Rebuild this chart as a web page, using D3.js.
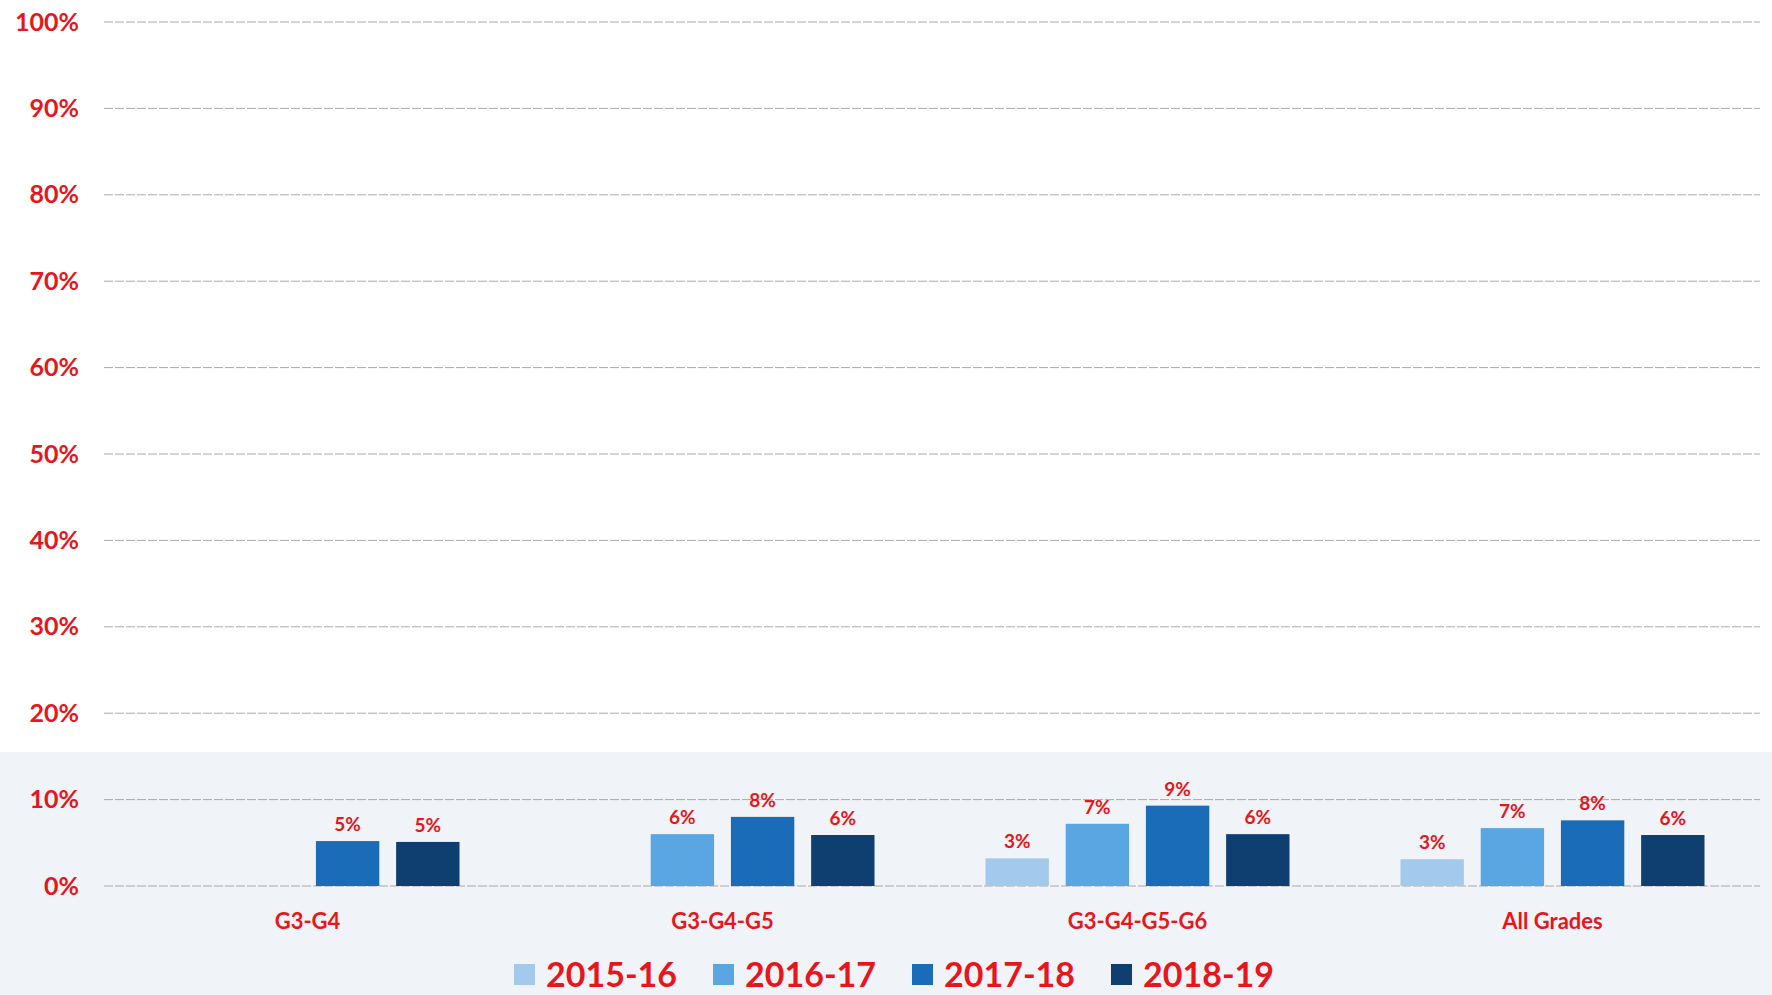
<!DOCTYPE html>
<html>
<head>
<meta charset="utf-8">
<title>Grades chart</title>
<script src="https://cdn.jsdelivr.net/npm/d3@7"></script>
<style>
  body { margin: 0; background: #fff; }
  text { font-family: Lato, "Open Sans", sans-serif; font-weight: bold; fill: #e8161c; }
</style>
</head>
<body>
<script>
// data
var groups = ['G3-G4', 'G3-G4-G5', 'G3-G4-G5-G6', 'All Grades'];
var years = ['2015-16', '2016-17', '2017-18', '2018-19'];
var v2015 = [null, null, 0.032, 0.031];
var v2016 = [null, 0.060, 0.072, 0.067];
var v2017 = [0.052, 0.080, 0.093, 0.076];
var v2018 = [0.051, 0.059, 0.060, 0.059];
var yTicks = [0, 0.1, 0.2, 0.3, 0.4, 0.5, 0.6, 0.7, 0.8, 0.9, 1];
var colors = ['#a3c9ec', '#5aa6e2', '#1a6cb9', '#0f3f70'];

var series = [v2015, v2016, v2017, v2018];
var width = 1772, height = 995;

var svg = d3.select('body').append('svg')
    .attr('width', width)
    .attr('height', height);

// pale band behind the bar area, like the scanned page
svg.append('rect')
    .attr('x', 0).attr('y', 752)
    .attr('width', width).attr('height', height - 752)
    .attr('fill', '#f0f3f7');

var x0 = d3.scaleBand().domain(groups).range([100, 1760]);
var x1 = d3.scaleBand().domain(years)
    .range([x0.bandwidth() / 2 - 152, x0.bandwidth() / 2 + 152])
    .paddingInner(0.21);
var y = d3.scaleLinear().domain([0, 1]).range([886, 22]);
var pct = d3.format('.0%');

// grid lines
svg.append('g')
  .selectAll('line')
  .data(yTicks)
  .enter().append('line')
    .attr('x1', 104).attr('x2', 1760)
    .attr('y1', function(d) { return y(d); })
    .attr('y2', function(d) { return y(d); })
    .attr('stroke', '#aaa')
    .attr('stroke-width', 1)
    .attr('stroke-dasharray', '9,2');

// y labels
var yAxis = d3.axisLeft(y).tickValues(yTicks).tickFormat(pct).tickSize(0).tickPadding(0);
var ga = svg.append('g').attr('transform', 'translate(79,0)').call(yAxis);
ga.select('.domain').remove();
ga.selectAll('text')
    .attr('font-size', 25)
    .attr('fill', '#e8161c')
    .style('font-family', 'Lato, sans-serif');

// bars
var rows = [];
groups.forEach(function(g, i) {
  years.forEach(function(yr, j) {
    if (series[j][i] != null) rows.push({g: g, yr: yr, j: j, v: series[j][i]});
  });
});

var bars = svg.append('g').selectAll('g')
    .data(rows)
    .enter().append('g')
    .attr('transform', function(d) { return 'translate(' + (x0(d.g) + x1(d.yr)) + ',0)'; });

bars.append('rect')
    .attr('y', function(d) { return y(d.v); })
    .attr('width', x1.bandwidth())
    .attr('height', function(d) { return y(0) - y(d.v); })
    .attr('fill', function(d) { return colors[d.j]; });

bars.append('text')
    .attr('x', x1.bandwidth() / 2)
    .attr('y', function(d) { return y(d.v) - 10; })
    .attr('text-anchor', 'middle')
    .attr('font-size', 19)
    .text(function(d) { return pct(d.v); });

// category labels
svg.append('g').selectAll('text')
    .data(groups)
    .enter().append('text')
    .attr('x', function(d) { return x0(d) + x0.bandwidth() / 2; })
    .attr('y', 929)
    .attr('text-anchor', 'middle')
    .attr('font-size', 22)
    .text(function(d) { return d; });

// legend
var leg = svg.append('g').selectAll('g')
    .data(years)
    .enter().append('g')
    .attr('transform', function(d, i) { return 'translate(' + (514 + i * 199) + ',964)'; });

leg.append('rect')
    .attr('width', 21).attr('height', 21)
    .attr('fill', function(d, i) { return colors[i]; });

leg.append('text')
    .attr('x', 32)
    .attr('y', 23)
    .attr('font-size', 34)
    .text(function(d) { return d; });
</script>
</body>
</html>
